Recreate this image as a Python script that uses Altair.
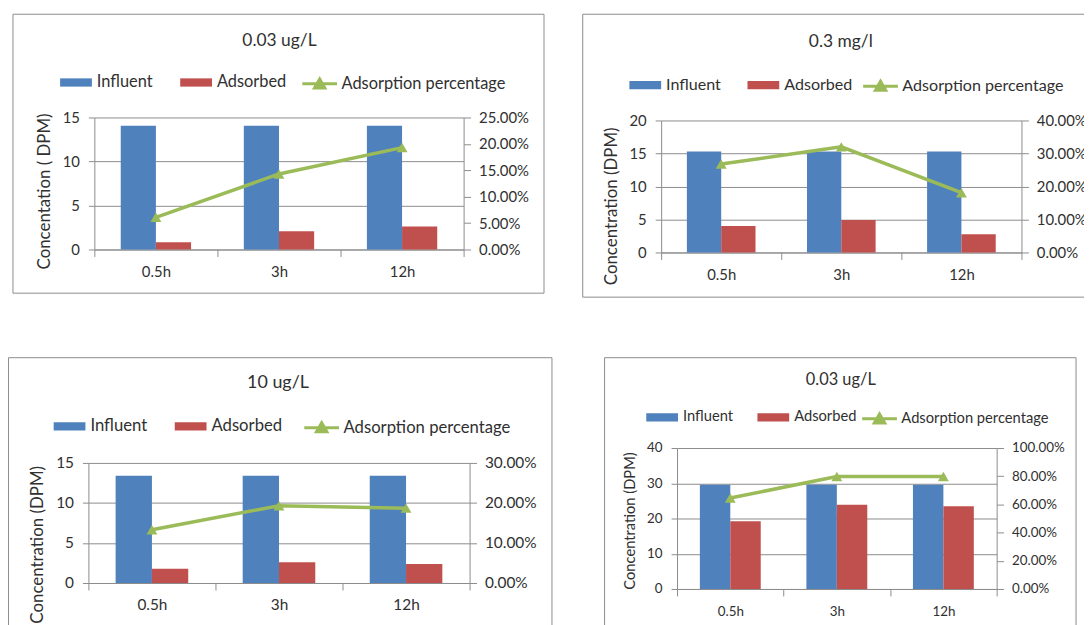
import altair as alt
import pandas as pd

# ---------------- data ----------------
times = ["0.5h", "3h", "12h"]
bar_series = ["Influent", "Adsorbed"]
line_series = "Adsorption percentage"
titles = ["0.03 ug/L", "0.3 mg/l", "10 ug/L", "0.03 ug/L"]
y_titles = ["Concentation ( DPM)", "Concentration (DPM)", "Concentration (DPM)", "Concentration (DPM)"]
influent = [
    [14.06, 14.06, 14.06],
    [15.28, 15.28, 15.28],
    [13.4, 13.4, 13.4],
    [29.55, 29.55, 29.55],
]
adsorbed = [
    [0.83, 2.07, 2.6],
    [4.02, 4.92, 2.76],
    [1.77, 2.59, 2.38],
    [19.2, 23.9, 23.5],
]
percentage = [
    [0.061, 0.143, 0.193],
    [0.268, 0.320, 0.181],
    [0.133, 0.193, 0.187],
    [0.645, 0.798, 0.798],
]
left_ticks = [[0, 5, 10, 15], [0, 5, 10, 15, 20], [0, 5, 10, 15], [0, 10, 20, 30, 40]]
right_ticks = [
    [0, 0.05, 0.10, 0.15, 0.20, 0.25],
    [0, 0.10, 0.20, 0.30, 0.40],
    [0, 0.10, 0.20, 0.30],
    [0, 0.20, 0.40, 0.60, 0.80, 1.00],
]

# ---------------- style / layout (pixels inside one canvas) ----------------
W, H = 1084, 617
FONT = "Lato"
BLUE, RED, GREEN = "#4F81BD", "#C0504D", "#9BBB59"
GRID = "#8c8c8c"
TXT = "#303030"
BAR_PATH = "M-1,-0.26H1V0.26H-1Z"
LINE_PATH = "M-1,0H1M-0.3,0.24L0,-0.28L0.3,0.24Z"

layouts = [
    dict(px=(87, 459), py=(108, 241), frame=(5, 540, 4, 285), title=(273.5, 31),
         ly=72.5, lbx=52.5, llx=295, fl=16.5, fa=15, ft=17.5, fyt=17, yty=182, cp=27, lp=8),
    dict(px=(658, 1021), py=(111, 244), frame=(579, 1100, 4, 289), title=(839, 32),
         ly=75, lbx=626, llx=860, fl=16.2, fa=15, ft=17.5, fyt=17, yty=197, cp=26, lp=8),
    dict(px=(81, 465), py=(456, 577), frame=(0.5, 548, 350, 630), title=(272, 376),
         ly=419, lbx=46, llx=297, fl=16.8, fa=15.5, ft=18, fyt=17, yty=538, cp=27, lp=8),
    dict(px=(674, 996), py=(441, 583), frame=(601, 1076, 350, 630), title=(839, 373),
         ly=410, lbx=643, llx=859, fl=14.8, fa=13.5, ft=16.5, fyt=14.8, yty=514, cp=24, lp=9),
]


def panel_layers(i):
    L = layouts[i]
    x0, x1 = L["px"]
    y0, y1 = L["py"]
    bars_df = pd.DataFrame({
        "time": times * 2,
        "series": [bar_series[0]] * 3 + [bar_series[1]] * 3,
        "value": influent[i] + adsorbed[i],
    })
    line_df = pd.DataFrame({"time": times, "series": [line_series] * 3, "pct": percentage[i]})
    title_df = pd.DataFrame({"t": [titles[i]]})

    xscale = alt.Scale(type="band", domain=times, paddingInner=0, paddingOuter=0, range=[x0, x1])
    lmax = left_ticks[i][-1]
    rmax = right_ticks[i][-1]

    fx0, fx1, fy0, fy1 = L["frame"]
    frame = alt.Chart(title_df).mark_rect(fill="transparent", stroke=GRID, strokeWidth=1).encode(
        x=alt.value(fx0), x2=alt.value(fx1), y=alt.value(fy0), y2=alt.value(fy1),
    )
    title_txt = alt.Chart(title_df).mark_text(
        font=FONT, fontSize=L["ft"], color=TXT, align="center", baseline="middle"
    ).encode(x=alt.value(L["title"][0]), y=alt.value(L["title"][1]), text="t:N")

    bars = alt.Chart(bars_df).mark_bar().encode(
        x=alt.X("time:N", scale=xscale, sort=times,
                axis=alt.Axis(title=None, orient="bottom", tickBand="extent", tickSize=7,
                              labelPadding=L["lp"], offset=-(H - y1),
                              domainColor=GRID, tickColor=GRID, labelFont=FONT,
                              labelFontSize=L["fa"], labelColor=TXT, labelAngle=0, grid=False)),
        xOffset=alt.XOffset("series:N", sort=bar_series,
                            scale=alt.Scale(domain=bar_series, paddingInner=0, paddingOuter=0.75)),
        y=alt.Y("value:Q", scale=alt.Scale(domain=[0, lmax], nice=False, zero=True, range=[y1, y0]),
                axis=alt.Axis(title=y_titles[i], orient="left", values=left_ticks[i], grid=True,
                              gridColor=GRID, offset=-x0,
                              domainColor=GRID, tickColor=GRID, tickSize=6, labelPadding=9,
                              labelFont=FONT, labelFontSize=L["fa"], labelColor=TXT,
                              titleFont=FONT, titleFontSize=L["fyt"], titleFontWeight="normal",
                              titleColor=TXT, titlePadding=9, titleY=L["yty"])),
        color=alt.Color("series:N", sort=bar_series,
                        scale=alt.Scale(domain=bar_series, range=[BLUE, RED]),
                        legend=alt.Legend(title=None, orient="none", direction="horizontal",
                                          legendX=L["lbx"], legendY=L["ly"] - 16,
                                          symbolType=BAR_PATH, symbolSize=1024, symbolStrokeWidth=0,
                                          labelFont=FONT, labelFontSize=L["fl"], labelColor=TXT,
                                          labelOffset=5, columnPadding=L["cp"], padding=0,
                                          labelLimit=0)),
    )

    yr = alt.Scale(domain=[0, rmax], nice=False, zero=True, range=[y1, y0])
    line = alt.Chart(line_df).mark_line(strokeWidth=3.5).encode(
        x=alt.X("time:N", scale=xscale, sort=times, axis=None),
        y=alt.Y("pct:Q", scale=yr,
                axis=alt.Axis(title=None, orient="right", values=right_ticks[i], format=".2%",
                              offset=-(W - x1),
                              grid=False, domainColor=GRID, tickColor=GRID, tickSize=7,
                              labelPadding=8, labelFont=FONT, labelFontSize=L["fa"], labelColor=TXT)),
        stroke=alt.Stroke("series:N", scale=alt.Scale(domain=[line_series], range=[GREEN]),
                          legend=alt.Legend(title=None, orient="none", direction="horizontal",
                                            legendX=L["llx"], legendY=L["ly"] - 17.5,
                                            symbolType=LINE_PATH, symbolSize=1225,
                                            symbolStrokeWidth=3, symbolFillColor=GREEN,
                                            labelFont=FONT, labelFontSize=L["fl"], labelColor=TXT,
                                            labelOffset=3, padding=0, labelLimit=0)),
    )
    pts = alt.Chart(line_df).mark_point(shape="triangle-up", filled=True, size=120,
                                        color=GREEN, opacity=1).encode(
        x=alt.X("time:N", scale=xscale, sort=times, axis=None),
        y=alt.Y("pct:Q", scale=yr, axis=None),
    )
    return [frame, title_txt, bars, line, pts]


all_layers = []
for k in range(4):
    all_layers += panel_layers(k)

chart = alt.layer(*all_layers).resolve_scale(
    x="independent", y="independent", xOffset="independent",
    color="independent", stroke="independent",
).resolve_axis(x="independent", y="independent").resolve_legend(
    color="independent", stroke="independent"
).properties(
    width=W, height=H, padding=0, background="white",
    autosize=alt.AutoSizeParams(type="none"),
).configure_view(stroke=None)

chart.save("out.html", embed_options={"renderer": "svg", "actions": False})
